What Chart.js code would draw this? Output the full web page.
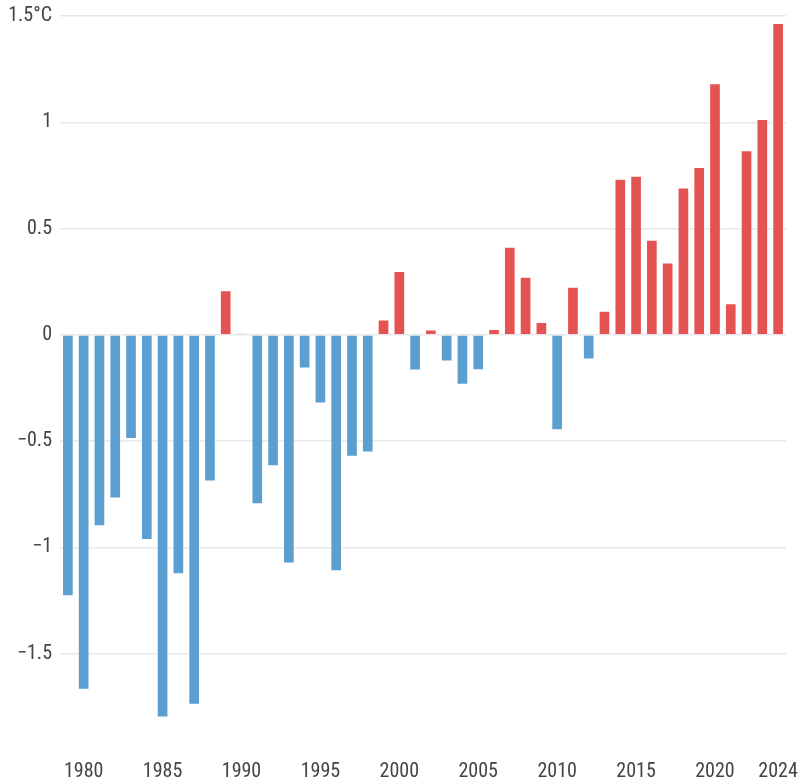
<!DOCTYPE html>
<html>
<head>
<meta charset="utf-8">
<script src="https://cdn.jsdelivr.net/npm/chart.js@4"></script>
<style>
  html, body { margin: 0; padding: 0; background: #fff; }
  #wrap { width: 800px; height: 782px; }
</style>
</head>
<body>
<div id="wrap"><canvas id="chart"></canvas></div>
<script>
// yearly anomaly, °C
const years = [];
for (let y = 1979; y <= 2024; y++) years.push(y);

const anomalies = [
  -1.23, -1.67, -0.90, -0.77, -0.49, -0.965, -1.80, -1.126, -1.74, -0.69,
  0.21, 0.008, -0.797, -0.618, -1.076, -0.158, -0.323, -1.112, -0.573, -0.554,
  0.072, 0.30, -0.168, 0.025, -0.125, -0.235, -0.166, 0.028, 0.414, 0.273,
  0.061, -0.449, 0.226, -0.116, 0.113, 0.734, 0.748, 0.447, 0.34, 0.693,
  0.79, 1.184, 0.149, 0.869, 1.015, 1.467
];

const yTicks = [-1.5, -1, -0.5, 0, 0.5, 1, 1.5];
const xLabelYears = [1980, 1985, 1990, 1995, 2000, 2005, 2010, 2015, 2020, 2024];

const warm = '#e45351';
const cold = '#5b9fd0';
const fontFamily = "'Roboto Condensed', 'Liberation Sans Narrow', 'DejaVu Sans Condensed', sans-serif";

new Chart(document.getElementById('chart'), {
  type: 'bar',
  data: {
    labels: years,
    datasets: [{
      data: anomalies,
      backgroundColor: anomalies.map(v => v >= 0 ? warm : cold),
      borderColor: 'rgba(255,255,255,0.55)',
      borderWidth: 1,
      borderSkipped: 'start',
      categoryPercentage: 1,
      barPercentage: 0.74
    }]
  },
  options: {
    responsive: true,
    maintainAspectRatio: false,
    animation: false,
    layout: { padding: { top: 16, right: 14, bottom: 0, left: 0 } },
    plugins: { legend: { display: false }, tooltip: { enabled: false } },
    scales: {
      x: {
        grid: { display: false, drawTicks: false },
        border: { display: false },
        afterFit: axis => { axis.height = 22; },
        ticks: {
          autoSkip: false,
          maxRotation: 0,
          padding: 0,
          color: '#444',
          font: { family: fontFamily, size: 20 },
          callback: function(val, i) {
            const y = years[i];
            return xLabelYears.includes(y) ? String(y) : '';
          }
        }
      },
      y: {
        min: -2,
        max: 1.5,
        afterBuildTicks: axis => { axis.ticks = yTicks.map(v => ({ value: v })); },
        afterFit: axis => { axis.width = 60; axis.paddingTop = 0; },
        grid: { color: '#e8e8e8', lineWidth: 1.5, drawTicks: false },
        border: { display: false },
        ticks: {
          padding: 8,
          color: '#444',
          font: { family: fontFamily, size: 20, lineHeight: 1 },
          callback: function(v) {
            let s = String(Math.abs(v));
            if (v < 0) s = '\u2212' + s;
            if (v === 1.5) s += '°C';
            return s;
          }
        }
      }
    }
  }
});
</script>
</body>
</html>
